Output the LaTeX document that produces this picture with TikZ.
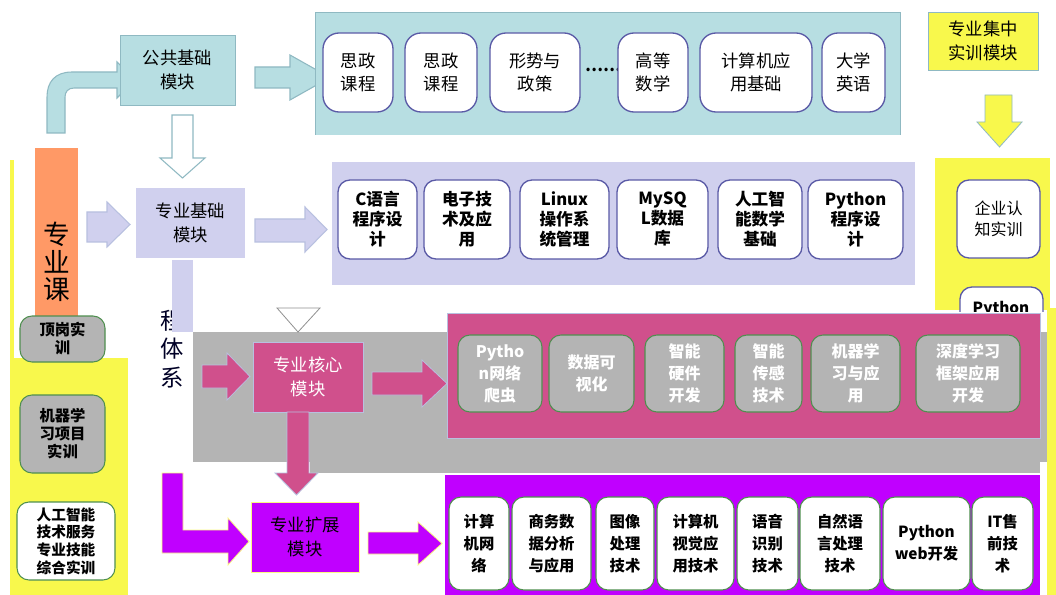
\documentclass[tikz,border=0pt]{standalone}
\usepackage{fontspec}
\setmainfont{Noto Sans CJK SC}
\definecolor{lblue}{HTML}{B7DEE2}
\definecolor{lblueD}{HTML}{8FB9C2}
\definecolor{lav}{HTML}{D0D0EE}
\definecolor{lavD}{HTML}{B8C0E0}
\definecolor{orng}{HTML}{FF9966}
\definecolor{yel}{HTML}{F8F84C}
\definecolor{pnk}{HTML}{D0508C}
\definecolor{gry}{HTML}{B4B4B4}
\definecolor{purp}{HTML}{C000FF}
\definecolor{bvio}{HTML}{5A5AA6}
\definecolor{grn}{HTML}{4F8F4F}
\newcommand\myRA[8]{\filldraw[#1] (#2,#5) -- (#3,#5) -- (#3,#7) -- (#4,{(#7+#8)/2}) -- (#3,#8) -- (#3,#6) -- (#2,#6) -- cycle;}
\newcommand\myDA[8]{\filldraw[#1] (#5,#2) -- (#5,#3) -- (#7,#3) -- ({(#7+#8)/2},#4) -- (#8,#3) -- (#6,#3) -- (#6,#2) -- cycle;}
\newcommand\bx[7]{%
  \pgfmathsetmacro\bw{(#5-#3)*0.75}\pgfmathsetmacro\bh{(#6-#4)*0.75}%
  \node[#1, minimum width=\bw pt, minimum height=\bh pt, inner sep=0pt] (#2) at ({(#3+#5)/2},{(#4+#6)/2}) {#7};}
\begin{document}
\begin{tikzpicture}[x=0.75pt,y=-0.75pt,
  tbox/.style={draw=bvio, line width=1pt, fill=white, rounded corners=12pt, align=center, font=\fontsize{13}{17}\selectfont},
  mbox/.style={draw=bvio, line width=1pt, fill=white, rounded corners=9pt, align=center, font=\bfseries\fontsize{12.5}{15}\selectfont},
  pbox/.style={draw=grn, line width=0.8pt, fill=gry, rounded corners=9pt, align=center, text=white, font=\bfseries\fontsize{12}{16.5}\selectfont},
  ubox/.style={draw=grn, line width=0.8pt, fill=white, rounded corners=9pt, align=center, font=\bfseries\fontsize{11.5}{16.5}\selectfont},
  modbox/.style={line width=0.6pt, align=center, font=\fontsize{13}{17.5}\selectfont},
  gbox/.style={draw=grn, line width=0.8pt, fill=gry, rounded corners=9pt, align=center, font=\bfseries\fontsize{11.5}{13.5}\selectfont},
  wbox/.style={draw=grn, line width=0.8pt, fill=white, rounded corners=9pt, align=center, font=\bfseries\fontsize{11}{13.3}\selectfont},
  blarr/.style={fill=lblue, draw=lblueD, line width=0.8pt},
  lvarr/.style={fill=lav, draw=lavD, line width=0.8pt},
  pkarr/.style={fill=pnk, draw=lavD, line width=0.6pt},
  pparr/.style={fill=purp, draw=yel!70!white, line width=0.6pt},
  ylarr/.style={fill=yel, draw=lblueD, line width=0.6pt}]
\useasboundingbox (0,0) rectangle (1056,595);
\fill[white] (0,0) rectangle (1056,595);

% left column
\fill[yel] (10,358) rectangle (128,595);
\fill[yel] (10,160) rectangle (14,358);
\fill[orng] (35,148) rectangle (78,352);
\node[align=center, font=\fontsize{20}{20.5}\selectfont] (zyk) at (57,262) {专\\业\\课};
\node[align=center, font=\fontsize{17.5}{21.4}\selectfont, text=black!85!blue] (ctx) at (172,349) {程\\体\\系};
\bx{gbox}{dgsx}{20}{316}{105}{362}{顶岗实\\训}
\bx{gbox}{jqxm}{20}{395}{105}{473}{机器学\\习项目\\实训}
\bx{wbox}{rgzn}{17}{502}{115}{580}{人工智能\\技术服务\\专业技能\\综合实训}

% bent arrow to public module
\filldraw[blarr] (47,133) -- (47,97) .. controls (47,82) and (55,72) .. (72,72) -- (117,72) -- (117,62) -- (135,80) -- (117,98) -- (117,88) -- (74,88) .. controls (68,88) and (65,92) .. (65,97) -- (65,133) -- cycle;

% public module
\bx{modbox, fill=lblue, draw=lblueD}{ggjc}{120}{35}{235}{105}{公共基础\\模块}
\myRA{blarr}{255}{290}{330}{67}{88}{55}{100}
\myDA{fill=white, draw=lblueD, line width=0.8pt}{115}{158}{178}{172}{193}{160}{205}

% top panel
\fill[lblue] (315,12) rectangle (900,135);
\draw[lblueD, line width=0.6pt] (315,135) -- (315,12) -- (900,12) -- (900,135);
\bx{tbox}{sz1}{323}{33}{393}{112}{思政\\课程}
\bx{tbox}{sz2}{405}{33}{477}{112}{思政\\课程}
\bx{tbox}{xszc}{490}{33}{580}{112}{形势与\\政策}
\node[font=\bfseries\fontsize{12}{14}\selectfont] (dots) at (603,70) {……};
\bx{tbox}{gdsx}{618}{33}{688}{112}{高等\\数学}
\bx{tbox}{jsjy}{700}{33}{812}{112}{计算机应\\用基础}
\bx{tbox}{dxyy}{822}{33}{885}{112}{大学\\英语}

% professional foundation
\bx{modbox, fill=lav, draw=none}{zyjc}{136}{188}{245}{258}{专业基础\\模块}
\myRA{lvarr}{87}{107}{130}{212}{242}{202}{247}
\myRA{lvarr}{255}{305}{327}{219}{242}{207}{252}
\fill[lav] (172,260) rectangle (193,332);
\fill[lav] (332,162) rectangle (915,285);
\bx{mbox}{cyy}{338}{180}{417}{259}{C语言\\程序设\\计}
\bx{mbox}{dzjs}{424}{180}{510}{259}{电子技\\术及应\\用}
\bx{mbox}{linux}{520}{180}{609}{259}{Linux\\操作系\\统管理}
\bx{mbox}{mysql}{617}{180}{708}{259}{MySQ\\L数据\\库}
\bx{mbox}{rgsx}{718}{180}{802}{259}{人工智\\能数学\\基础}
\bx{mbox}{pycx}{808}{180}{903}{259}{Python\\程序设\\计}

% right column
\bx{modbox, fill=yel, draw=lblueD}{jzsx}{928}{12}{1038}{70}{专业集中\\实训模块}
\myDA{ylarr}{95}{122}{147}{985}{1012}{977}{1022}
\fill[yel] (935,158) rectangle (1050,310);
\bx{mbox, font=\fontsize{12}{16}\selectfont}{qyrz}{957}{180}{1040}{258}{企业认\\知实训}
\begin{scope}
\clip (950,280) rectangle (1050,311);
\draw[bvio, line width=1pt, fill=white, rounded corners=9pt] (960,287) rectangle (1043,340);
\node[font=\bfseries\fontsize{11.5}{13}\selectfont, anchor=north] (pyth) at (1001,297) {Python};
\end{scope}
\fill[yel] (1047,308) rectangle (1056,595);

% core module
\fill[gry] (193,332) rectangle (1047,462);
\fill[gry] (310,462) rectangle (1040,473);
\draw[gry!80!black, line width=0.6pt, fill=white] (277,308) -- (320,308) -- (298,332) -- cycle;
\bx{modbox, fill=pnk, draw=lavD, text=white}{zyhx}{253}{342}{363}{412}{专业核心\\模块}
\myRA{pkarr}{202}{227}{250}{365}{388}{353}{400}
\myRA{pkarr}{372}{422}{447}{372}{395}{360}{407}
\fill[pnk] (447,313) rectangle (1040,438);
\draw[lavD, line width=0.6pt] (447,313) rectangle (1040,438);
\bx{pbox}{pypc}{458}{335}{542}{412}{Pytho\\n网络\\爬虫}
\bx{pbox}{sjksh}{549}{335}{634}{412}{数据可\\视化}
\bx{pbox}{znyj}{645}{335}{724}{412}{智能\\硬件\\开发}
\bx{pbox}{zncg}{735}{335}{802}{412}{智能\\传感\\技术}
\bx{pbox}{jqxx}{811}{335}{900}{412}{机器学\\习与应\\用}
\bx{pbox}{sdxx}{916}{335}{1020}{412}{深度学习\\框架应用\\开发}

% extension module
\myDA{pkarr}{412}{473}{495}{287}{309}{275}{318}
\bx{modbox, fill=purp, draw=yel!70!white}{zykz}{251}{502}{359}{572}{专业扩展\\模块}
\filldraw[pparr] (162,473) -- (183,473) -- (183,530) -- (228,530) -- (228,518) -- (249,541.5) -- (228,565) -- (228,553) -- (162,553) -- cycle;
\myRA{pparr}{368}{418}{442}{532}{554}{522}{565}
\fill[purp] (445,475) rectangle (1040,595);
\bx{ubox}{jswl}{449}{497}{509}{590}{计算\\机网\\络}
\bx{ubox}{swsj}{512}{497}{591}{590}{商务数\\据分析\\与应用}
\bx{ubox}{txcl}{596}{497}{654}{590}{图像\\处理\\技术}
\bx{ubox}{jsjsj}{657}{497}{734}{590}{计算机\\视觉应\\用技术}
\bx{ubox}{yysb}{737}{497}{798}{590}{语音\\识别\\技术}
\bx{ubox}{zryy}{800}{497}{880}{590}{自然语\\言处理\\技术}
\bx{ubox}{pyweb}{883}{497}{970}{590}{Python\\web开发}
\bx{ubox}{itsq}{972}{497}{1033}{590}{IT售\\前技\\术}
\end{tikzpicture}
\end{document}
